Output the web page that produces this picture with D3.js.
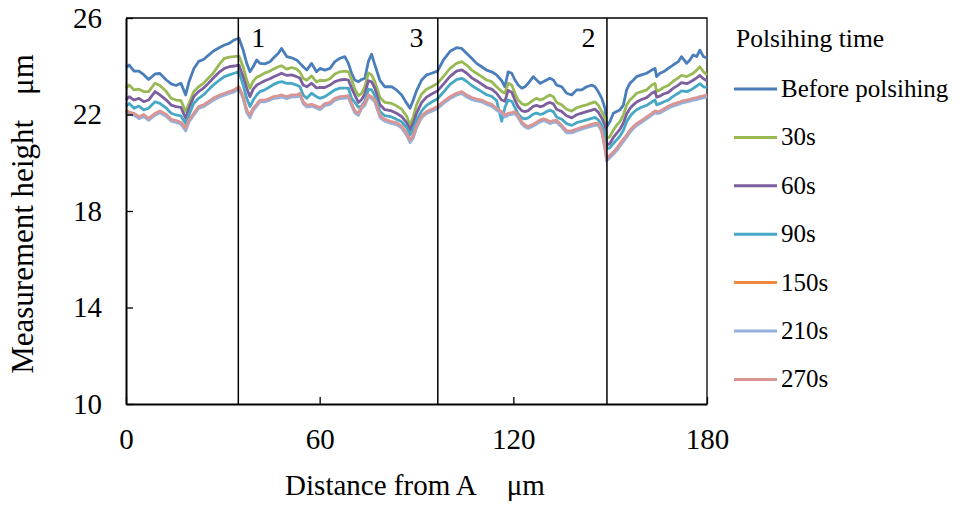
<!DOCTYPE html>
<html><head><meta charset="utf-8">
<script src="https://cdn.jsdelivr.net/npm/d3@7/dist/d3.min.js"></script>
<style>body{margin:0;background:#fff}svg{display:block}</style>
</head><body>
<svg id="c" width="961" height="507"></svg>
<script>
const xs = [0,1,2.5,4,5.5,7,9,10.5,12.5,14,15.5,17,18.5,19.5,21,22.5,24,25.5,27,29,30.5,32,33.5,35,
36.3,37.4,38.4,39.4,40.5,41.5,43,44.6,45.6,47.2,48.2,49.8,51.3,52.9,53.9,54.9,56,57.5,59,60.1,61.6,63.2,64.7,66.3,67.8,68.9,69.9,70.9,72,73,74,75.1,76.1,77.1,78.7,80.2,82.3,83.8,85.4,87,88,89,90,91.6,93.1,94.7,96.5,98.3,100.4,102.4,104,105.5,107.1,108.6,110.2,111.7,113.3,114.8,116.4,117.4,118.4,119.5,120.5,121.5,122.6,123.6,124.6,126.2,127.2,128.3,129.3,130.3,131.3,132.4,133.4,135,136.5,138.1,139.6,141.2,142.7,144.3,145.3,146.3,147.4,148.4,148.9,149.9,151,152,153,154.1,155.1,156.1,157.2,158.2,159.7,161.3,162.9,163.9,164.4,165.4,166.5,168,169.5,171.1,172.1,173.7,174.7,175.7,176.8,177.8,178.9,180];

const before = [23.95,24.05,23.80,23.80,23.65,23.45,23.68,23.70,23.43,23.27,
23.20,23.30,22.81,23.35,23.90,24.20,24.28,24.45,24.62,24.78,
24.88,24.95,25.09,25.16,24.67,24.12,23.77,23.98,24.26,24.12,
24.10,24.19,24.33,24.54,24.74,24.40,24.35,24.26,24.12,23.98,
23.84,24.12,23.77,23.91,23.84,23.91,24.19,24.33,24.40,24.12,
23.71,23.43,23.36,23.45,23.50,24.20,24.50,24.05,23.40,23.15,
23.15,23.02,22.81,22.46,22.26,22.60,22.98,23.43,23.64,23.71,
23.80,24.25,24.62,24.77,24.74,24.54,24.33,24.12,23.98,23.84,
23.77,23.64,23.40,23.15,23.77,23.71,23.43,23.22,23.09,23.15,
23.29,23.57,23.43,23.29,23.36,23.43,23.50,23.43,23.22,23.15,
22.88,22.81,23.02,23.02,23.15,23.22,23.15,22.95,22.67,22.26,
21.49,21.70,22.05,22.12,22.19,22.39,23.02,23.29,23.43,23.57,
23.64,23.71,23.84,23.91,23.57,23.71,23.77,23.91,24.05,24.19,
24.40,24.12,24.26,24.47,24.40,24.67,24.40,24.33];

const s30 = [23.09,23.22,23.02,23.05,22.95,22.95,23.30,23.20,22.95,22.67,
22.60,22.58,22.12,22.46,22.95,23.15,23.29,23.50,23.71,24.10,
24.33,24.38,24.40,24.42,23.98,23.43,23.09,23.38,23.55,23.60,
23.72,23.80,23.88,23.98,24.02,23.88,23.95,23.88,23.76,23.50,
23.42,23.60,23.35,23.42,23.40,23.48,23.68,23.77,23.80,23.77,
23.45,23.05,22.78,22.88,23.15,23.72,23.64,23.36,22.70,22.50,
22.46,22.36,22.22,21.92,21.56,21.90,22.40,22.85,23.05,23.15,
23.29,23.57,23.91,24.12,24.19,24.05,23.84,23.71,23.57,23.43,
23.36,23.15,22.95,22.88,23.29,23.22,22.88,22.60,22.45,22.39,
22.44,22.60,22.67,22.60,22.65,22.74,22.81,22.74,22.50,22.40,
22.22,22.14,22.28,22.35,22.40,22.48,22.52,22.39,22.12,21.84,
21.01,21.08,21.36,21.56,21.70,21.98,22.39,22.60,22.74,22.88,
22.95,23.02,23.22,23.29,22.95,23.02,23.12,23.20,23.38,23.52,
23.62,23.57,23.64,23.71,23.84,23.98,23.77,23.64];

const s60 = [22.60,22.74,22.60,22.67,22.53,22.60,22.95,22.81,22.60,22.39,
22.33,22.30,21.84,22.26,22.74,22.95,23.09,23.29,23.50,23.77,
23.91,23.98,24.01,24.05,23.57,23.09,22.74,23.05,23.22,23.29,
23.40,23.48,23.55,23.65,23.71,23.62,23.64,23.57,23.50,23.22,
23.15,23.30,23.10,23.12,23.12,23.22,23.36,23.43,23.46,23.43,
23.09,22.80,22.50,22.62,22.85,23.40,23.35,23.08,22.40,22.20,
22.15,22.05,21.92,21.65,21.36,21.65,22.05,22.50,22.72,22.85,
22.98,23.25,23.58,23.80,23.85,23.72,23.52,23.40,23.26,23.12,
23.05,22.88,22.60,22.55,23.00,22.92,22.60,22.32,22.16,22.12,
22.16,22.34,22.38,22.32,22.36,22.45,22.50,22.44,22.22,22.12,
21.95,21.86,21.99,22.06,22.12,22.18,22.22,22.10,21.85,21.55,
20.72,20.80,21.05,21.22,21.38,21.65,22.02,22.25,22.40,22.52,
22.62,22.70,22.88,22.95,22.72,22.76,22.85,22.92,23.08,23.22,
23.32,23.28,23.34,23.42,23.52,23.62,23.48,23.40];

const s90 = [22.33,22.46,22.26,22.35,22.19,22.26,22.53,22.46,22.26,22.05,
21.98,21.94,21.63,21.98,22.46,22.67,22.81,23.02,23.22,23.43,
23.57,23.64,23.71,23.77,23.22,22.67,22.33,22.60,22.81,22.95,
23.02,23.15,23.24,23.33,23.36,23.29,23.29,23.22,23.15,22.81,
22.67,22.88,22.74,22.67,22.74,22.88,23.02,23.09,23.09,23.09,
22.67,22.50,22.30,22.35,22.55,23.05,23.02,22.78,22.12,21.95,
21.90,21.80,21.70,21.45,21.15,21.40,21.75,22.15,22.38,22.52,
22.65,22.92,23.25,23.45,23.50,23.38,23.20,23.08,22.95,22.82,
22.75,22.58,21.72,22.30,22.60,22.55,22.28,22.02,21.86,21.82,
21.86,22.02,22.06,22.00,22.04,22.12,22.18,22.12,21.90,21.80,
21.62,21.55,21.66,21.72,21.78,21.84,21.88,21.78,21.55,21.25,
20.58,20.62,20.80,20.95,21.10,21.35,21.70,21.92,22.08,22.20,
22.30,22.38,22.52,22.60,22.40,22.45,22.52,22.60,22.75,22.88,
22.98,22.95,23.00,23.08,23.18,23.28,23.15,23.12];

const s150 = [22.16,22.07,22.02,21.88,21.97,21.81,22.02,22.12,21.97,21.77,
21.72,21.65,21.39,21.74,22.02,22.30,22.37,22.50,22.64,22.78,
22.85,22.92,22.99,23.12,22.71,22.15,21.94,22.23,22.40,22.57,
22.57,22.64,22.71,22.74,22.78,22.71,22.78,22.78,22.85,22.50,
22.36,22.39,22.32,22.25,22.42,22.47,22.64,22.71,22.73,22.75,
22.42,22.12,22.02,22.30,22.43,22.78,22.71,22.57,21.92,21.77,
21.67,21.63,21.49,21.18,20.90,21.09,21.49,21.92,22.09,22.19,
22.30,22.50,22.71,22.85,22.92,22.78,22.67,22.61,22.57,22.47,
22.39,22.23,22.09,21.95,22.02,22.05,22.09,21.92,21.67,21.53,
21.47,21.57,21.65,21.74,21.79,21.75,21.67,21.72,21.73,21.52,
21.29,21.29,21.37,21.44,21.50,21.57,21.60,21.60,21.33,20.63,
20.14,20.27,20.42,20.57,20.75,20.95,21.12,21.32,21.47,21.59,
21.72,21.87,22.02,22.12,22.09,22.11,22.19,22.31,22.40,22.47,
22.52,22.57,22.60,22.64,22.67,22.71,22.74,22.78];

const s210 = [22.10,22.01,21.97,21.83,21.92,21.76,21.97,22.07,21.92,21.72,
21.67,21.60,21.32,21.69,21.97,22.25,22.32,22.45,22.59,22.73,
22.80,22.87,22.94,23.07,22.66,22.08,21.86,22.17,22.35,22.52,
22.52,22.59,22.66,22.69,22.73,22.66,22.73,22.73,22.80,22.45,
22.31,22.34,22.27,22.20,22.37,22.42,22.59,22.66,22.68,22.70,
22.37,22.06,21.96,22.25,22.38,22.73,22.66,22.52,21.87,21.72,
21.62,21.58,21.44,21.12,20.83,21.03,21.44,21.87,22.04,22.14,
22.25,22.45,22.66,22.80,22.87,22.73,22.62,22.56,22.52,22.42,
22.34,22.18,22.04,21.90,21.97,22.00,22.04,21.87,21.62,21.48,
21.42,21.52,21.60,21.69,21.74,21.70,21.62,21.67,21.68,21.47,
21.24,21.24,21.32,21.39,21.45,21.52,21.55,21.55,21.28,20.56,
20.08,20.21,20.35,20.50,20.68,20.88,21.05,21.25,21.42,21.54,
21.67,21.82,21.97,22.07,22.04,22.06,22.14,22.26,22.35,22.42,
22.47,22.52,22.55,22.59,22.62,22.66,22.69,22.73];

const s270 = [22.19,22.10,22.05,21.91,22.00,21.84,22.05,22.15,22.00,21.80,
21.75,21.68,21.43,21.77,22.05,22.33,22.40,22.53,22.67,22.81,
22.88,22.95,23.02,23.15,22.74,22.19,21.98,22.26,22.43,22.60,
22.60,22.67,22.74,22.77,22.81,22.74,22.81,22.81,22.88,22.53,
22.39,22.42,22.35,22.28,22.45,22.50,22.67,22.74,22.76,22.78,
22.45,22.15,22.05,22.33,22.46,22.81,22.74,22.60,21.95,21.80,
21.70,21.66,21.52,21.22,20.94,21.12,21.52,21.95,22.12,22.22,
22.33,22.53,22.74,22.88,22.95,22.81,22.70,22.64,22.60,22.50,
22.42,22.26,22.12,21.98,22.05,22.08,22.12,21.95,21.70,21.56,
21.50,21.60,21.68,21.77,21.82,21.78,21.70,21.75,21.76,21.55,
21.32,21.32,21.40,21.47,21.53,21.60,21.63,21.63,21.36,20.67,
20.18,20.30,20.45,20.60,20.78,20.98,21.15,21.35,21.50,21.62,
21.75,21.90,22.05,22.15,22.12,22.14,22.22,22.34,22.43,22.50,
22.55,22.60,22.63,22.67,22.70,22.74,22.77,22.81];

const seriesNames = ["Before polsihing","30s","60s","90s","150s","210s","270s"];
const seriesValues = [before, s30, s60, s90, s150, s210, s270];
const seriesColors = ["#4a7ebb","#98b954","#7d5fa0","#46a8c4","#f0883e","#94b0dc","#d99593"];
const xTicks = [0,60,120,180];
const yTicks = [10,14,18,22,26];
const regionLines = [34.8,96.6,149.0];
const regionLabels = [{x:41,t:"1"},{x:90,t:"3"},{x:143.3,t:"2"}];

const FONT = '"Liberation Serif","Times New Roman",Times,serif';
const svg = d3.select("#c");
const x = d3.scaleLinear().domain([0,180]).range([126,707]);
const y = d3.scaleLinear().domain([10,26]).range([404,18]);

function txt(sel, size){ return sel.style("font-family",FONT).style("font-size",size+"px").attr("fill","#000"); }

// frame top/right
svg.append("path").attr("d",`M${x(0)},${y(26)}H${x(180)}V${y(10)}`).attr("fill","none").attr("stroke","#000").attr("stroke-width",1.3);

// series
const line = d3.line().x(d=>x(d[0])).y(d=>y(d[1]));
seriesValues.forEach((vals,i)=>{
  const pts = xs.slice(0, Math.min(xs.length, vals.length)).map((xv,j)=>[xv, vals[j]]);
  svg.append("path").datum(pts).attr("d",line).attr("fill","none")
    .attr("stroke",seriesColors[i]).attr("stroke-width",2.8).attr("stroke-linejoin","round");
});

// region separators
regionLines.forEach(v=>{
  svg.append("line").attr("x1",x(v)).attr("x2",x(v)).attr("y1",y(26)).attr("y2",y(10))
    .attr("stroke","#000").attr("stroke-width",1.5);
});
regionLabels.forEach(r=>{
  txt(svg.append("text").attr("x",x(r.x)).attr("y",47).attr("text-anchor","middle"),28).text(r.t);
});

// axes
const xa = svg.append("g").attr("transform",`translate(0,${y(10)})`)
  .call(d3.axisBottom(x).tickValues(xTicks).tickSizeInner(-7).tickSizeOuter(0).tickPadding(24).tickFormat(d3.format("d")));
const ya = svg.append("g").attr("transform",`translate(${x(0)},0)`)
  .call(d3.axisLeft(y).tickValues(yTicks).tickSizeInner(-7).tickSizeOuter(0).tickPadding(24).tickFormat(d3.format("d")));
[xa,ya].forEach(g=>{
  g.attr("font-family",null);
  g.select(".domain").attr("stroke","#000").attr("stroke-width",2);
  g.selectAll(".tick line").attr("stroke","#000").attr("stroke-width",1.3);
  txt(g.selectAll(".tick text"),29);
});

// axis titles
const xt = txt(svg.append("text").attr("x",415).attr("y",495).attr("text-anchor","middle"),29);
xt.append("tspan").text("Distance from A");
xt.append("tspan").attr("dx",30).text("μm");
const yt = txt(svg.append("text").attr("transform","translate(33,214) rotate(-90)").attr("text-anchor","middle"),31);
yt.append("tspan").text("Measurement height");
yt.append("tspan").attr("dx",25).text("μm");

// legend
txt(svg.append("text").attr("x",736).attr("y",47),25.5).text("Polsihing time");
seriesNames.forEach((n,i)=>{
  const ly = 89 + i*48.4;
  svg.append("line").attr("x1",734).attr("x2",777).attr("y1",ly).attr("y2",ly)
    .attr("stroke",seriesColors[i]).attr("stroke-width",3);
  txt(svg.append("text").attr("x",781).attr("y",ly+8),25).text(n);
});
</script>
</body></html>
